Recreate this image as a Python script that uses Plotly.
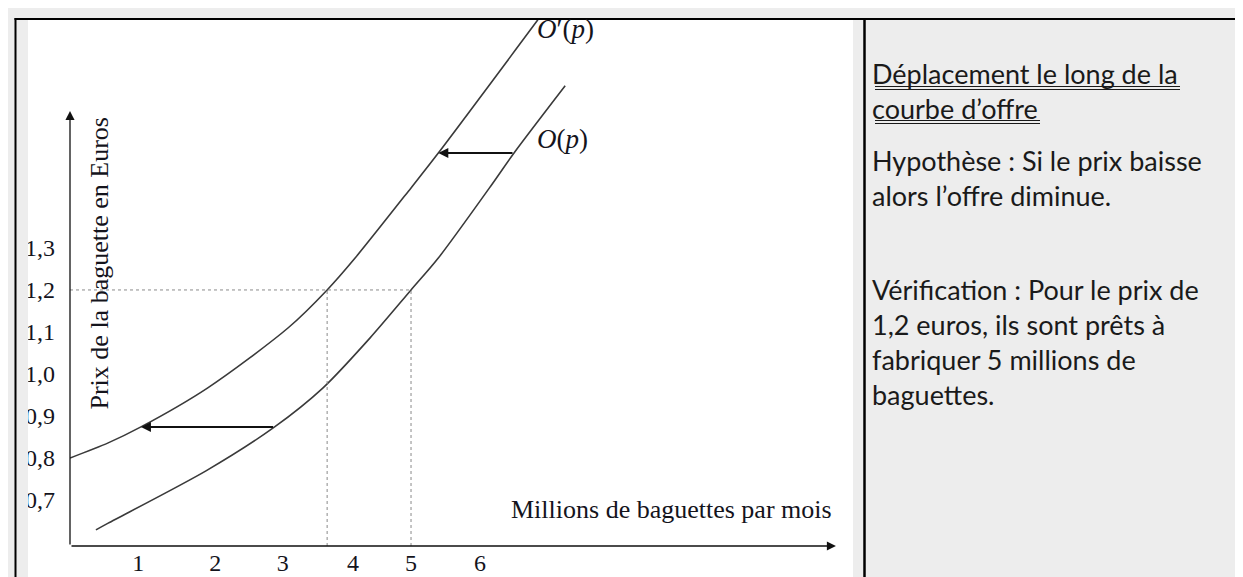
import plotly.graph_objects as go

W, H = 1243, 577

# courbe d'offre initiale O(p) et courbe déplacée O'(p) (quantité en millions, prix en euros)
q_shift = [0.0, 0.56, 1.04, 2.02, 3.2, 3.77, 4.18, 5.0, 5.4, 6.86]
p_shift = [0.80, 0.836, 0.874, 0.967, 1.11, 1.2, 1.276, 1.443, 1.526, 1.843]
q_supply = [0.38, 0.56, 2.0, 3.0, 3.71, 4.4, 5.0, 5.4, 6.15, 6.51, 7.26]
p_supply = [0.629, 0.645, 0.77, 0.874, 0.967, 1.086, 1.2, 1.276, 1.443, 1.526, 1.686]

# flèches de déplacement
arrow_p = [0.874, 1.526]
arrow_from = [3.0, 6.51]
arrow_to = [1.04, 5.4]

# repère prix 1,2
p_ref = 1.2
q_ref = [3.77, 5.0]

x_tick_pos = [1.0, 2.13, 3.12, 4.15, 5.0, 6.01]
x_tick_text = ['1', '2', '3', '4', '5', '6']
y_ticks = [0.7, 0.8, 0.9, 1.0, 1.1, 1.2, 1.3]
y_tick_text = ['0,7', '0,8', '0,9', '1,0', '1,1', '1,2', '1,3']

x_min, x_max, x_arrow = 0.0, 11.48, 11.23
y_min, y_max, y_arrow = 0.5905, 1.845, 1.626

serif = 'Liberation Serif'
bg = '#ededed'
ink = '#14141c'


def px(x):
    return x / W


def py(y):
    return 1 - y / H


fig = go.Figure()

fig.add_trace(go.Scatter(x=q_shift, y=p_shift, mode='lines',
                         line=dict(color='#3a3a3a', width=1.6, shape='spline', smoothing=0.8),
                         hoverinfo='skip'))
fig.add_trace(go.Scatter(x=q_supply, y=p_supply, mode='lines',
                         line=dict(color='#3a3a3a', width=1.6, shape='spline', smoothing=0.8),
                         hoverinfo='skip'))

# pointillés
fig.add_trace(go.Scatter(x=[x_min, q_ref[1]], y=[p_ref, p_ref], mode='lines',
                         line=dict(color='#8a8a8a', width=1, dash='dot'), hoverinfo='skip'))
for q in q_ref:
    fig.add_trace(go.Scatter(x=[q, q], y=[y_min, p_ref], mode='lines',
                             line=dict(color='#8a8a8a', width=1, dash='dot'), hoverinfo='skip'))

annotations = []
# axes avec flèches
annotations.append(dict(x=x_arrow, y=y_min, ax=x_min, ay=y_min, xref='x', yref='y', axref='x', ayref='y',
                        text='', showarrow=True, arrowhead=2, arrowsize=1.4, arrowwidth=1.3, arrowcolor='#111'))
annotations.append(dict(x=x_min, y=y_arrow, ax=x_min, ay=y_min, xref='x', yref='y', axref='x', ayref='y',
                        text='', showarrow=True, arrowhead=2, arrowsize=1.4, arrowwidth=1.3, arrowcolor='#111'))
for pa, qf, qt in zip(arrow_p, arrow_from, arrow_to):
    annotations.append(dict(x=qt, y=pa, ax=qf, ay=pa, xref='x', yref='y', axref='x', ayref='y',
                            text='', showarrow=True, arrowhead=2, arrowsize=1, arrowwidth=2, arrowcolor='#111'))

# libellés des courbes
annotations.append(dict(x=6.82, y=1.82, xref='x', yref='y', xanchor='left', yanchor='middle', showarrow=False,
                        text='<i>O</i>′(<i>p</i>)', font=dict(family=serif, size=27, color=ink)))
annotations.append(dict(x=6.82, y=1.56, xref='x', yref='y', xanchor='left', yanchor='middle', showarrow=False,
                        text='<i>O</i>(<i>p</i>)', font=dict(family=serif, size=27, color=ink)))

# titres des axes
annotations.append(dict(x=px(74), y=py(256), xref='paper', yref='paper', showarrow=False, textangle=-90,
                        text='Prix de la baguette en Euros', font=dict(family=serif, size=26, color=ink)))
annotations.append(dict(x=px(826), y=py(518), xref='paper', yref='paper', xanchor='right', showarrow=False,
                        text='Millions de baguettes par mois', font=dict(family=serif, size=26, color=ink)))

# texte à droite
txt_font = dict(family='Lato', size=27, color='#1a1a1a')
annotations.append(dict(x=px(862), y=py(83), xref='paper', yref='paper', xanchor='left', yanchor='middle',
                        align='left', showarrow=False, font=txt_font,
                        text='Déplacement le long de la<br>courbe d’offre'))
annotations.append(dict(x=px(862), y=py(170), xref='paper', yref='paper', xanchor='left', yanchor='middle',
                        align='left', showarrow=False, font=txt_font,
                        text='Hypothèse : Si le prix baisse<br>alors l’offre diminue.'))
annotations.append(dict(x=px(862), y=py(334), xref='paper', yref='paper', xanchor='left', yanchor='middle',
                        align='left', showarrow=False, font=txt_font,
                        text='Vérification : Pour le prix de<br>1,2 euros, ils sont prêts à<br>'
                             'fabriquer 5 millions de<br>baguettes.'))

shapes = [
    dict(type='rect', xref='paper', yref='paper', x0=px(20), x1=px(845), y0=py(577), y1=py(12),
         fillcolor='white', line=dict(width=0), layer='below'),
    dict(type='rect', xref='paper', yref='paper', x0=px(8), x1=px(20), y0=py(577), y1=py(12),
         fillcolor=bg, line=dict(width=0), layer='above'),
    dict(type='line', xref='paper', yref='paper', x0=px(7.5), x1=px(7.5), y0=py(577), y1=py(10),
         line=dict(color='black', width=2), layer='above'),
    dict(type='line', xref='paper', yref='paper', x0=px(6.5), x1=px(1243), y0=py(11), y1=py(11),
         line=dict(color='black', width=2), layer='above'),
    dict(type='line', xref='paper', yref='paper', x0=px(856.5), x1=px(856.5), y0=py(577), y1=py(11),
         line=dict(color='black', width=2.5), layer='above'),
]
# double soulignement du titre
for y_u, x_end in [(78.5, 1172), (81.5, 1172), (112.5, 1032), (115.5, 1032)]:
    shapes.append(dict(type='line', xref='paper', yref='paper', x0=px(867), x1=px(x_end),
                       y0=py(y_u), y1=py(y_u), line=dict(color='#1a1a1a', width=1)))

fig.update_layout(
    width=W, height=H,
    margin=dict(l=0, r=0, t=0, b=0),
    paper_bgcolor=bg, plot_bgcolor='rgba(0,0,0,0)',
    showlegend=False,
    annotations=annotations,
    shapes=shapes,
    xaxis=dict(domain=[px(62), px(845)], range=[x_min, x_max], showgrid=False, zeroline=False,
               showline=False, ticks='', tickvals=x_tick_pos, ticktext=x_tick_text,
               ticklabelstandoff=0, tickfont=dict(family=serif, size=24, color=ink)),
    yaxis=dict(domain=[py(538), py(11)], range=[y_min, y_max], showgrid=False, zeroline=False,
               showline=False, ticks='', tickvals=y_ticks, ticktext=y_tick_text,
               ticklabelstandoff=14, tickfont=dict(family=serif, size=24, color=ink)),
)

fig.write_html('out.html')
